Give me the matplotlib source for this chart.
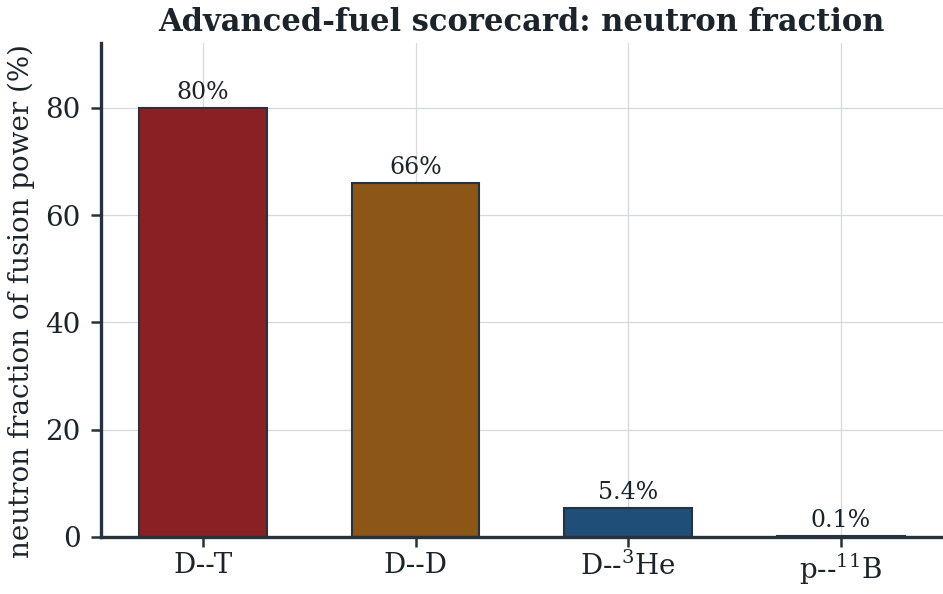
import matplotlib.pyplot as plt
import numpy as np

plt.rcParams['font.family'] = 'DejaVu Serif'
plt.rcParams['mathtext.fontset'] = 'dejavuserif'

fuels = ['D--T', 'D--D', r'D--$^{3}$He', r'p--$^{11}$B']
neutron_frac = [80, 66, 5.4, 0.1]
bar_labels = ['80%', '66%', '5.4%', '0.1%']
colors = ['#8a2023', '#8b5616', '#1f4e79', '#6b6b6b']

ink = '#1c242b'
spine = '#27323c'

fig = plt.figure(figsize=(9.43, 5.94), dpi=100)
ax = fig.add_axes([0.107, 0.096, 0.893, 0.831])

x = np.arange(len(fuels))
bars = ax.bar(x, neutron_frac, width=0.6, color=colors, edgecolor=spine, linewidth=1.5, zorder=2)

for b, lab in zip(bars, bar_labels):
    ax.annotate(lab, (b.get_x() + b.get_width() / 2, b.get_height()),
                xytext=(0, 3), textcoords='offset points',
                ha='center', va='bottom', fontsize=17, color=ink, zorder=4)

ax.set_xticks(x)
ax.set_xticklabels(fuels)
ax.set_ylim(0, 92)
ax.set_yticks([0, 20, 40, 60, 80])
ax.grid(True, color='#d5d9de', linewidth=0.9, zorder=0)
ax.set_axisbelow(True)

for s in ['top', 'right']:
    ax.spines[s].set_visible(False)
for s in ['left', 'bottom']:
    ax.spines[s].set_color(spine)
    ax.spines[s].set_linewidth(2.4)
    ax.spines[s].set_zorder(3)

ax.tick_params(axis='both', labelsize=20, colors=spine, labelcolor=ink, length=7, width=1.8)
ax.tick_params(axis='y', pad=7.5)
ax.set_ylabel('neutron fraction of fusion power (%)', fontsize=20, color=ink)
ax.yaxis.set_label_coords(-0.078, 0.478)
ax.set_title('Advanced-fuel scorecard: neutron fraction', fontsize=22, fontweight='bold', color=ink, pad=9)

fig.savefig('out.png', dpi=100)
